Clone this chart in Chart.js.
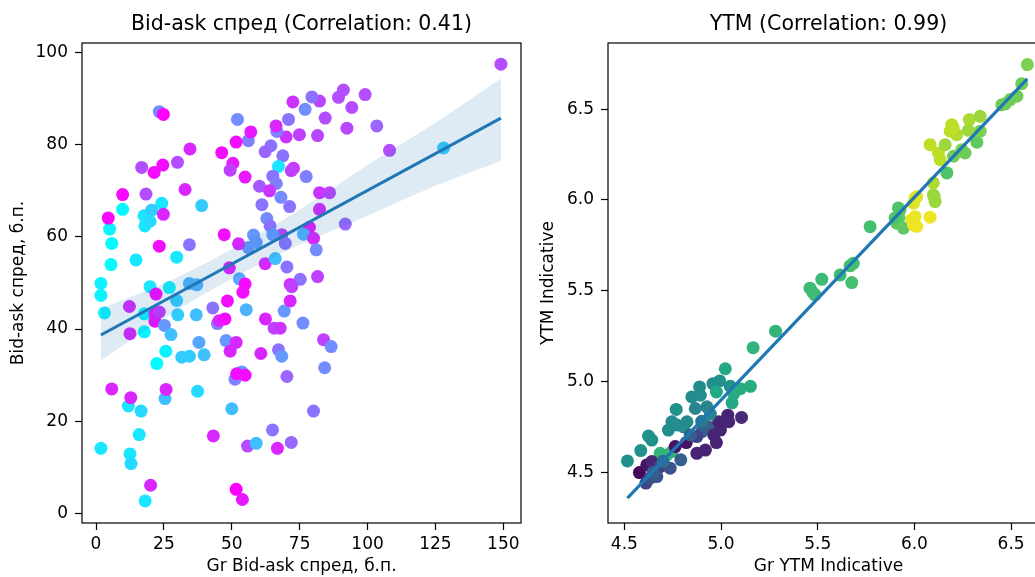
<!DOCTYPE html>
<html lang="ru">
<head>
<meta charset="UTF-8">
<title>Bid-ask спред и YTM</title>
<style>
  html, body { margin: 0; padding: 0; background: #fff; overflow: hidden; width: 1035px; height: 577px; }
  .panel { position: absolute; top: 0; }
  #bidChart { left: 0; }
  #ytmChart { left: 530px; }
</style>
<script src="https://cdn.jsdelivr.net/npm/chart.js"></script>
</head>
<body>
<canvas id="bidChart" class="panel" width="530" height="577"></canvas>
<canvas id="ytmChart" class="panel" width="545" height="577"></canvas>
<script>
// ---- Bid-ask спред: Gr (x), own (y), colour value (0 = cyan, 1 = magenta)
const bidGr = [
  149.1,128.0,108.1,103.4,99.1,94.2,91.1,89.3,92.4,91.8,
  84.4,82.3,79.5,81.6,77.0,74.9,72.5,70.9,70.0,66.6,
  66.3,64.4,62.3,68.8,67.2,72.7,71.9,77.4,65.1,66.4,
  60.2,63.9,68.1,82.3,86.0,61.1,71.3,82.3,62.9,64.1,
  78.6,76.4,68.4,65.1,69.7,80.1,81.1,58.0,56.1,59.0,
  52.5,47.2,34.4,62.3,66.0,70.3,49.1,52.8,54.9,75.2,
  81.6,71.5,38.9,29.7,14.7,5.5,5.8,5.0,4.5,9.8,
  9.8,18.4,17.7,20.5,24.2,24.8,18.0,19.9,23.3,16.8,
  21.4,24.6,30.0,34.6,32.8,23.3,24.8,52.1,56.1,57.0,
  51.6,46.3,50.4,49.4,54.9,1.8,19.9,27.0,34.4,37.1,
  22.1,1.8,3.1,12.3,12.5,17.8,17.8,21.7,21.7,23.3,
  25.2,27.6,29.7,30.1,25.7,22.4,31.6,34.4,36.9,37.9,
  39.8,43.0,44.7,45.3,47.5,48.4,47.9,49.4,51.6,55.3,
  54.1,51.2,53.7,51.8,54.9,50.0,43.2,55.8,59.0,65.0,
  66.8,71.9,80.1,51.6,53.9,20.1,18.1,1.8,12.5,12.9,
  15.9,16.6,11.9,12.8,5.8,25.4,25.8,37.4,62.4,65.6,
  67.8,60.7,67.2,68.4,70.3,69.3,71.5,72.1,76.2,83.8,86.6,84.2
];
const bidOwn = [
  97.5,79.3,78.8,84.1,90.9,88.1,91.9,90.3,83.6,62.8,
  85.8,89.5,90.4,82.0,87.7,82.2,89.3,85.5,81.7,82.9,
  84.1,79.8,78.5,77.6,75.3,74.9,74.4,73.1,73.2,71.6,
  71.0,70.0,68.6,69.6,69.6,67.0,66.6,66.0,64.0,62.4,
  62.1,60.6,60.5,60.5,58.6,59.7,57.2,60.4,57.7,58.8,
  58.5,60.5,58.3,54.2,55.3,53.5,53.3,50.9,49.8,50.8,
  51.4,49.7,66.8,55.6,55.0,54.0,58.6,61.7,64.1,66.0,
  69.2,69.3,64.6,65.8,67.3,64.9,62.4,63.4,58.0,75.1,
  74.0,75.6,76.2,79.1,70.3,87.2,86.6,85.5,80.9,82.8,
  80.6,78.3,76.0,74.5,73.0,49.9,49.2,49.0,49.9,49.6,
  47.6,47.3,43.5,44.9,39.0,39.4,43.3,43.3,41.7,43.7,
  40.8,38.8,46.2,43.1,35.2,32.5,33.9,34.1,43.1,37.1,
  34.4,44.6,41.2,41.8,42.2,46.1,37.5,35.2,37.1,44.2,
  48.0,29.1,30.7,30.3,30.0,22.7,16.8,14.6,15.2,18.1,
  14.1,15.4,22.2,5.2,3.0,6.1,2.7,14.1,12.9,10.8,
  17.1,22.2,23.3,25.1,27.0,24.9,26.9,26.5,42.2,40.2,
  40.2,34.7,35.5,34.1,29.7,43.9,46.1,49.2,41.3,37.7,36.2,31.6
];
const bidShade = [
  .70,.20,.70,.60,.70,.70,.70,.70,.72,.60,
  .70,.72,.55,.72,.45,.75,.80,.55,.80,.50,
  .85,.55,.60,.55,.10,.80,.75,.50,.55,.50,
  .65,.80,.45,.80,.75,.55,.55,.85,.45,.55,
  .90,.30,.75,.40,.55,.85,.45,.40,.40,.40,
  .85,.95,.55,.85,.25,.55,.90,.35,.95,.55,
  .75,.85,.20,.10,.10,.02,.02,.05,.97,.03,
  .97,.70,.10,.20,.10,.85,.10,.15,.95,.70,
  .95,.95,.70,.85,.85,.45,1.0,.45,.50,.90,
  .95,.95,.90,.75,.90,.05,.10,.05,.30,.30,
  1.0,.05,.05,.85,.88,.05,.05,.95,.95,.80,
  .40,.25,.20,.20,.05,.02,.20,.20,.25,.35,
  .25,.55,.50,.85,.95,.95,.40,.85,.85,.30,
  .95,.50,.40,.95,.95,.25,.85,.70,.25,.55,
  .85,.60,.55,1.0,.90,.85,.10,.10,.10,.15,
  .10,.15,.10,.85,.85,.25,.85,.15,.85,.75,
  .80,.85,.55,.40,.60,.40,.85,.75,.45,.75,.45,.45
];
// regression line and its confidence band
const bidLineX = [1.8, 149.1];
const bidLineY = [38.7, 85.8];
const bidBandX = [1.8, 25, 50, 75, 100, 125, 149.1];
const bidBandLow = [33.2, 42.3, 50.9, 58.3, 64.6, 71.1, 76.5];
const bidBandHigh = [44.5, 49.9, 57.3, 65.9, 75.6, 84.8, 94.4];
const bidXTicks = [0, 25, 50, 75, 100, 125, 150];
const bidYTicks = [0, 20, 40, 60, 80, 100];

// ---- YTM: Gr (x), own (y), colour value (viridis 0..1)
const ytmGr = [
  4.516,4.585,4.625,4.642,4.685,4.720,4.746,4.728,4.746,4.772,
  4.806,4.824,4.768,4.849,4.889,4.893,4.867,4.927,4.958,4.993,
  5.022,5.048,4.976,5.066,5.100,5.152,5.057,4.578,4.616,4.642,
  4.612,4.633,4.668,4.685,4.737,4.763,4.792,4.820,4.875,4.919,
  4.976,4.936,4.901,4.875,4.841,4.962,4.988,5.035,5.040,5.106,
  4.997,4.650,4.700,4.900,4.945,5.166,5.282,5.460,5.486,5.521,
  5.475,5.616,5.667,5.684,5.676,5.771,5.909,5.926,5.920,5.943,
  5.900,5.917,5.995,6.003,5.995,6.012,6.081,6.098,6.107,6.003,
  5.986,6.012,6.102,6.098,6.168,6.133,6.124,6.081,6.159,6.202,
  6.245,6.262,6.323,6.340,6.279,6.219,6.185,6.193,6.284,6.340,
  6.452,6.495,6.530,6.555,6.584,6.470,6.200
];
const ytmOwn = [
  4.562,4.619,4.699,4.677,4.604,4.595,4.613,4.732,4.778,4.760,
  4.750,4.778,4.846,4.915,4.970,4.924,4.851,4.860,4.988,5.003,
  5.070,4.973,4.942,4.933,4.960,4.973,4.882,4.498,4.540,4.559,
  4.440,4.467,4.476,4.531,4.522,4.641,4.568,4.663,4.604,4.622,
  4.663,4.750,4.723,4.696,4.705,4.705,4.778,4.814,4.778,4.802,
  4.732,4.500,4.560,4.780,4.820,5.186,5.277,5.514,5.477,5.563,
  5.490,5.587,5.637,5.651,5.545,5.853,5.872,5.945,5.900,5.845,
  5.901,5.956,5.982,5.908,5.862,6.018,5.905,6.028,5.991,6.011,
  5.892,5.855,6.020,6.094,6.149,6.222,6.259,6.305,6.305,6.241,
  6.277,6.259,6.318,6.379,6.384,6.360,6.379,6.415,6.443,6.461,
  6.525,6.553,6.572,6.641,6.746,6.530,6.400
];
const ytmShade = [
  .50,.50,.50,.50,.65,.65,.65,.48,.48,.48,
  .48,.48,.50,.48,.48,.48,.45,.45,.48,.50,
  .60,.50,.60,.62,.62,.62,.60,.02,.05,.10,
  .20,.25,.25,.20,.25,.05,.30,.05,.10,.10,
  .10,.30,.30,.20,.30,.10,.10,.10,.10,.12,
  .10,.30,.35,.40,.45,.65,.65,.68,.68,.68,
  .68,.68,.70,.70,.70,.70,.75,.75,.75,.75,
  .72,.72,.95,.97,.98,.95,.98,.85,.85,.95,
  .97,.98,.85,.88,.72,.90,.90,.90,.85,.78,
  .80,.78,.75,.80,.85,.88,.90,.90,.87,.85,
  .78,.78,.78,.78,.80,.78,.90
];
const ytmLineX = [4.516, 6.584];
const ytmLineY = [4.357, 6.667];
const ytmXTicks = [4.5, 5.0, 5.5, 6.0, 6.5];
const ytmYTicks = [4.5, 5.0, 5.5, 6.0, 6.5];

// ---- colour maps
function cool(c) {
  return `rgb(${Math.round(255 * c)},${Math.round(255 * (1 - c))},255)`;
}
const viridisStops = ['#440154','#482475','#414487','#355f8d','#2a788e','#21918c','#22a884','#44bf70','#7ad151','#bddf26','#fde725'];
function viridis(c) {
  const p = Math.min(Math.max(c, 0), 1) * 10;
  const i = Math.min(Math.floor(p), 9), t = p - i;
  const a = viridisStops[i], b = viridisStops[i + 1];
  const ch = (h, k) => parseInt(h.substr(1 + 2 * k, 2), 16);
  const mix = k => Math.round(ch(a, k) + (ch(b, k) - ch(a, k)) * t);
  return `rgb(${mix(0)},${mix(1)},${mix(2)})`;
}

const pairs = (xs, ys) => xs.map((x, i) => ({ x, y: ys[i] }));

Chart.defaults.font.family = "'DejaVu Sans', sans-serif";
Chart.defaults.color = '#000';

// title above the plot area plus a full black frame, like matplotlib axes
const panelTitle = {
  id: 'panelTitle',
  afterDraw(chart, args, opts) {
    const { ctx, chartArea: a } = chart;
    ctx.save();
    ctx.strokeStyle = '#000';
    ctx.lineWidth = 1.2;
    ctx.strokeRect(a.left, a.top, a.right - a.left, a.bottom - a.top);
    ctx.font = "20.5px 'DejaVu Sans'";
    ctx.fillStyle = '#000';
    ctx.textAlign = 'center';
    ctx.textBaseline = 'middle';
    ctx.fillText(opts.text, (a.left + a.right) / 2, a.top - 18);
    ctx.restore();
  }
};

function axis(min, max, ticks, label, digits, size, horizontal) {
  return {
    type: 'linear',
    min: min,
    max: max,
    afterBuildTicks: s => { s.ticks = ticks.map(v => ({ value: v })); },
    afterFit: s => { if (horizontal) s.height = size; else s.width = size; },
    grid: { drawOnChartArea: false, tickLength: 7, tickColor: '#000', tickWidth: 1.2 },
    border: { display: false },
    ticks: {
      autoSkip: false, maxRotation: 0, color: '#000',
      padding: horizontal ? 4 : 7,
      font: { size: 17 },
      callback: v => Number(v).toFixed(digits)
    },
    title: {
      display: true, text: label, color: '#000', font: { size: 17 },
      padding: horizontal ? { top: 0, bottom: 0 } : { top: 8, bottom: 0 }
    }
  };
}

new Chart(document.getElementById('bidChart'), {
  type: 'scatter',
  data: {
    datasets: [
      { type: 'line', data: pairs(bidLineX, bidLineY), borderColor: '#1f77b4', borderWidth: 3,
        pointRadius: 0, fill: false, order: 0 },
      { type: 'line', data: pairs(bidBandX, bidBandHigh), borderColor: 'rgba(0,0,0,0)', borderWidth: 0,
        pointRadius: 0, cubicInterpolationMode: 'monotone', fill: '+1',
        backgroundColor: 'rgba(31,119,180,0.15)', order: 1 },
      { type: 'line', data: pairs(bidBandX, bidBandLow), borderColor: 'rgba(0,0,0,0)', borderWidth: 0,
        pointRadius: 0, cubicInterpolationMode: 'monotone', fill: false, order: 1 },
      { data: pairs(bidGr, bidOwn), backgroundColor: bidShade.map(cool), borderWidth: 0,
        pointRadius: 6.5, order: 2 }
    ]
  },
  options: {
    responsive: false, animation: false, events: [],
    layout: { padding: { top: 43, right: 9, left: 0, bottom: 0 } },
    plugins: {
      legend: { display: false }, tooltip: { enabled: false },
      panelTitle: { text: 'Bid-ask спред (Correlation: 0.41)' }
    },
    scales: {
      x: axis(-5.16, 156.5, bidXTicks, 'Gr Bid-ask спред, б.п.', 0, 54, true),
      y: axis(-2.1, 102.1, bidYTicks, 'Bid-ask спред, б.п.', 0, 82, false)
    }
  },
  plugins: [panelTitle]
});

new Chart(document.getElementById('ytmChart'), {
  type: 'scatter',
  data: {
    datasets: [
      { type: 'line', data: pairs(ytmLineX, ytmLineY), borderColor: '#1f77b4', borderWidth: 3.2,
        pointRadius: 0, fill: false, order: 0 },
      { data: pairs(ytmGr, ytmOwn), backgroundColor: ytmShade.map(viridis), borderWidth: 0,
        pointRadius: 6.5, order: 1 }
    ]
  },
  options: {
    responsive: false, animation: false, events: [],
    layout: { padding: { top: 43, right: 26, left: 0, bottom: 0 } },
    plugins: {
      legend: { display: false }, tooltip: { enabled: false },
      panelTitle: { text: 'YTM (Correlation: 0.99)' }
    },
    scales: {
      x: axis(4.4155, 6.696, ytmXTicks, 'Gr YTM Indicative', 1, 54, true),
      y: axis(4.22, 6.865, ytmYTicks, 'YTM Indicative', 1, 78, false)
    }
  },
  plugins: [panelTitle]
});
</script>
</body>
</html>
